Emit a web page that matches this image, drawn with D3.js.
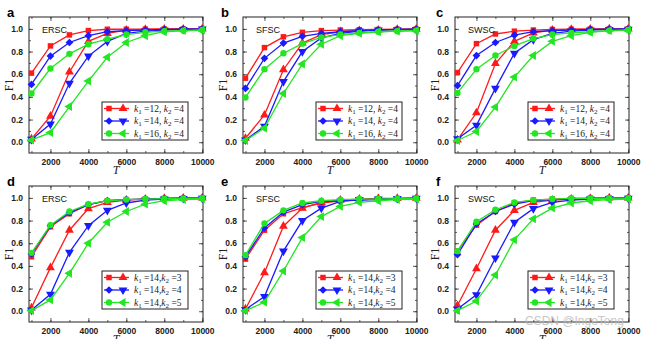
<!DOCTYPE html>
<html>
<head>
<meta charset="utf-8">
<script src="https://cdn.jsdelivr.net/npm/d3@7"></script>
<style>
    body { margin: 0; background: #fff; }
    .tick-label { font-family: "Liberation Sans", Arial, sans-serif; font-size: 8.5px; font-weight: bold; fill: #222; }
    .net-name { font-family: "Liberation Sans", Arial, sans-serif; font-size: 9px; fill: #111; }
    .panel-letter { font-family: "Liberation Sans", Arial, sans-serif; font-size: 13px; font-weight: bold; fill: #000; }
    .axis-title { font-family: "Liberation Serif", "Times New Roman", serif; font-size: 12px; fill: #222; }
    .legend-text { font-family: "Liberation Serif", "Times New Roman", serif; font-size: 9.5px; fill: #222; }
</style>
</head>
<body>
<script>
//x values shared by every curve
var tValues = [1000, 2000, 3000, 4000, 5000, 6000, 7000, 8000, 9000, 10000];
var xTicks = [2000, 4000, 6000, 8000, 10000];
var yTicks = [0, 0.2, 0.4, 0.6, 0.8, 1.0];

var panelLetters = ["a", "b", "c", "d", "e", "f"];
var networkNames = ["ERSC", "SFSC", "SWSC", "ERSC", "SFSC", "SWSC"];

//legend parameters (k1, k2) for top row and bottom row
var topK = [["12", "4"], ["14", "4"], ["16", "4"]];
var bottomK = [["14", "3"], ["14", "4"], ["14", "5"]];

//panel a (ERSC, k1 varies)
var aSquare   = [0.61, 0.85, 0.947, 0.985, 0.997, 0.997, 0.998, 0.999, 1.0, 1.0];
var aTriUp    = [0.03, 0.23, 0.62, 0.89, 0.96, 0.99, 0.995, 0.998, 0.999, 1.0];
var aDiamond  = [0.51, 0.76, 0.88, 0.94, 0.975, 0.985, 0.99, 0.995, 0.997, 0.998];
var aTriDown  = [0.025, 0.16, 0.52, 0.76, 0.89, 0.96, 0.98, 0.99, 0.995, 0.998];
var aCircle   = [0.43, 0.65, 0.78, 0.865, 0.91, 0.95, 0.97, 0.98, 0.985, 0.99];
var aTriLeft  = [0.02, 0.085, 0.315, 0.54, 0.75, 0.88, 0.94, 0.975, 0.985, 0.99];

//panel b (SFSC, k1 varies)
var bSquare   = [0.565, 0.835, 0.93, 0.97, 0.985, 0.99, 0.993, 0.995, 0.997, 0.998];
var bTriUp    = [0.035, 0.24, 0.64, 0.875, 0.95, 0.975, 0.985, 0.99, 0.995, 0.997];
var bDiamond  = [0.475, 0.74, 0.875, 0.935, 0.96, 0.975, 0.985, 0.99, 0.995, 0.998];
var bTriDown  = [0.02, 0.14, 0.535, 0.8, 0.92, 0.96, 0.98, 0.99, 0.993, 0.995];
var bCircle   = [0.395, 0.645, 0.785, 0.87, 0.925, 0.95, 0.965, 0.975, 0.98, 0.985];
var bTriLeft  = [0.015, 0.125, 0.43, 0.69, 0.865, 0.94, 0.96, 0.975, 0.98, 0.985];

//panel c (SWSC, k1 varies)
var cSquare   = [0.615, 0.87, 0.955, 0.98, 0.99, 0.995, 0.997, 0.998, 0.999, 1.0];
var cTriUp    = [0.02, 0.26, 0.695, 0.89, 0.965, 0.99, 0.995, 0.998, 1.0, 1.0];
var cDiamond  = [0.5, 0.765, 0.88, 0.945, 0.975, 0.985, 0.99, 0.995, 0.997, 0.998];
var cTriDown  = [0.03, 0.15, 0.475, 0.785, 0.905, 0.96, 0.98, 0.99, 0.995, 0.997];
var cCircle   = [0.435, 0.645, 0.765, 0.85, 0.915, 0.95, 0.965, 0.975, 0.985, 0.99];
var cTriLeft  = [0.015, 0.095, 0.31, 0.575, 0.765, 0.89, 0.94, 0.97, 0.985, 0.99];

//panel d (ERSC, k2 varies)
var dSquare   = [0.48, 0.745, 0.86, 0.94, 0.975, 0.985, 0.99, 0.995, 0.997, 0.998];
var dTriUp    = [0.03, 0.385, 0.715, 0.905, 0.96, 0.98, 0.99, 0.995, 0.997, 1.0];
var dDiamond  = [0.505, 0.755, 0.87, 0.94, 0.975, 0.985, 0.99, 0.995, 0.997, 0.998];
var dTriDown  = [0.01, 0.15, 0.52, 0.755, 0.89, 0.955, 0.98, 0.99, 0.995, 0.997];
var dCircle   = [0.515, 0.76, 0.88, 0.945, 0.975, 0.985, 0.99, 0.993, 0.995, 0.997];
var dTriLeft  = [0.005, 0.1, 0.335, 0.6, 0.785, 0.88, 0.945, 0.975, 0.985, 0.99];

//panel e (SFSC, k2 varies)
var eSquare   = [0.46, 0.715, 0.86, 0.915, 0.955, 0.975, 0.985, 0.99, 0.993, 0.995];
var eTriUp    = [0.02, 0.34, 0.75, 0.91, 0.96, 0.98, 0.99, 0.995, 0.995, 0.997];
var eDiamond  = [0.48, 0.735, 0.875, 0.94, 0.97, 0.975, 0.98, 0.985, 0.99, 0.995];
var eTriDown  = [0.015, 0.13, 0.53, 0.8, 0.91, 0.97, 0.985, 0.99, 0.995, 0.997];
var eCircle   = [0.495, 0.775, 0.89, 0.955, 0.975, 0.985, 0.99, 0.99, 0.993, 0.995];
var eTriLeft  = [0.005, 0.08, 0.355, 0.65, 0.835, 0.925, 0.96, 0.975, 0.985, 0.99];

//panel f (SWSC, k2 varies)
var fSquare   = [0.53, 0.76, 0.88, 0.955, 0.98, 0.99, 0.995, 0.998, 0.999, 1.0];
var fTriUp    = [0.05, 0.375, 0.715, 0.89, 0.96, 0.98, 0.99, 0.995, 1.0, 1.0];
var fDiamond  = [0.5, 0.77, 0.88, 0.945, 0.975, 0.985, 0.99, 0.995, 0.997, 0.998];
var fTriDown  = [0.02, 0.145, 0.47, 0.785, 0.905, 0.96, 0.98, 0.99, 0.995, 0.997];
var fCircle   = [0.53, 0.79, 0.895, 0.96, 0.98, 0.99, 0.995, 0.995, 0.997, 0.998];
var fTriLeft  = [0.005, 0.09, 0.32, 0.63, 0.815, 0.91, 0.955, 0.975, 0.985, 0.99];

var panelSeries = [
    [aSquare, aTriUp, aDiamond, aTriDown, aCircle, aTriLeft],
    [bSquare, bTriUp, bDiamond, bTriDown, bCircle, bTriLeft],
    [cSquare, cTriUp, cDiamond, cTriDown, cCircle, cTriLeft],
    [dSquare, dTriUp, dDiamond, dTriDown, dCircle, dTriLeft],
    [eSquare, eTriUp, eDiamond, eTriDown, eCircle, eTriLeft],
    [fSquare, fTriUp, fDiamond, fTriDown, fCircle, fTriLeft]
];

var red = "#ff1a1a", blue = "#1a1aff", green = "#22e622";
//colour, marker type and rotation for each of the six curves
var seriesStyle = [
    {color: red,   symbol: d3.symbolSquare,   size: 30, rotate: 0},
    {color: red,   symbol: d3.symbolTriangle, size: 34, rotate: 0},
    {color: blue,  symbol: d3.symbolSquare,   size: 30, rotate: 45},
    {color: blue,  symbol: d3.symbolTriangle, size: 34, rotate: 180},
    {color: green, symbol: d3.symbolCircle,   size: 32, rotate: 0},
    {color: green, symbol: d3.symbolTriangle, size: 34, rotate: -90}
];

function drawFigure(){
    var width = 648,
        height = 339;

    var svg = d3.select("body")
        .append("svg")
        .attr("width", width)
        .attr("height", height);

    //frame positions
    var colLeft = [29, 243, 455],
        rowTop = [17, 186],
        frameW = 174,
        frameH = 136;

    panelLetters.forEach(function(letter, i){
        var col = i % 3,
            row = Math.floor(i / 3);
        var g = svg.append("g")
            .attr("transform", "translate(" + colLeft[col] + "," + rowTop[row] + ")");
        drawPanel(g, frameW, frameH, i, row);
    });

    //watermark in lower right corner
    svg.append("text")
        .attr("x", 525)
        .attr("y", 325)
        .style("font-family", "Liberation Sans, Arial, sans-serif")
        .style("font-size", "12px")
        .style("fill", "#bbb")
        .style("opacity", 0.8)
        .text("CSDN @IngeTeng");
}

function drawPanel(g, w, h, index, row){
    var x = d3.scaleLinear()
        .domain([870, 10040])
        .range([0, w]);
    var y = d3.scaleLinear()
        .domain([-0.095, 1.105])
        .range([h, 0]);

    //ticks inside the frame on all four sides
    var xMinor = d3.range(1000, 10001, 1000),
        yMinor = d3.range(0, 1.01, 0.1);

    var axes = [
        {axis: d3.axisBottom(x).tickValues(xTicks).tickFormat(d3.format("d")), at: [0, h]},
        {axis: d3.axisTop(x).tickValues(xTicks).tickFormat(""), at: [0, 0]},
        {axis: d3.axisLeft(y).tickValues(yTicks).tickFormat(d3.format(".1f")), at: [0, 0]},
        {axis: d3.axisRight(y).tickValues(yTicks).tickFormat(""), at: [w, 0]}
    ];
    var minors = [
        d3.axisBottom(x).tickValues(xMinor).tickFormat(""),
        d3.axisTop(x).tickValues(xMinor).tickFormat(""),
        d3.axisLeft(y).tickValues(yMinor).tickFormat(""),
        d3.axisRight(y).tickValues(yMinor).tickFormat("")
    ];

    minors.forEach(function(ax, k){
        var at = axes[k].at;
        var a = g.append("g")
            .attr("transform", "translate(" + at[0] + "," + at[1] + ")")
            .call(ax.tickSizeInner(-2).tickSizeOuter(0));
        a.select(".domain").remove();
        a.selectAll("line").attr("stroke", "#333").attr("stroke-width", 0.8);
    });

    axes.forEach(function(item){
        var a = g.append("g")
            .attr("transform", "translate(" + item.at[0] + "," + item.at[1] + ")")
            .call(item.axis.tickSizeInner(-4).tickSizeOuter(0).tickPadding(6));
        a.select(".domain").remove();
        a.selectAll("line").attr("stroke", "#333").attr("stroke-width", 0.8);
        a.selectAll("text").attr("class", "tick-label").attr("fill", null);
    });

    //frame
    g.append("rect")
        .attr("width", w)
        .attr("height", h)
        .attr("fill", "none")
        .attr("stroke", "#222")
        .attr("stroke-width", 1);

    //curves
    var line = d3.line()
        .x(function(d, i){ return x(tValues[i]); })
        .y(function(d){ return y(d); });

    var plot = g.append("g");
    panelSeries[index].forEach(function(values, s){
        var st = seriesStyle[s];
        plot.append("path")
            .datum(values)
            .attr("d", line)
            .attr("fill", "none")
            .attr("stroke", st.color)
            .attr("stroke-width", 1.3);
        plot.selectAll(".m" + s)
            .data(values)
            .enter()
            .append("path")
            .attr("class", "m" + s)
            .attr("d", d3.symbol().type(st.symbol).size(st.size))
            .attr("transform", function(d, i){
                return "translate(" + x(tValues[i]) + "," + y(d) + ") rotate(" + st.rotate + ")";
            })
            .attr("fill", st.color);
    });

    //panel letter and network name
    g.append("text")
        .attr("class", "panel-letter")
        .attr("x", index % 3 == 2 ? -19 : -22)
        .attr("y", 0)
        .text(panelLetters[index]);

    g.append("text")
        .attr("class", "net-name")
        .attr("x", 13)
        .attr("y", 15.5)
        .text(networkNames[index]);

    //axis titles
    g.append("text")
        .attr("class", "axis-title")
        .attr("transform", "translate(-16," + (h / 2) + ") rotate(-90)")
        .attr("text-anchor", "middle")
        .text("F1");

    g.append("text")
        .attr("class", "axis-title")
        .attr("x", w / 2)
        .attr("y", h + 21)
        .attr("text-anchor", "middle")
        .style("font-style", "italic")
        .text("T");

    drawLegend(g, w, h, row);
}

function drawLegend(g, w, h, row){
    var ks = row == 0 ? topK : bottomK;
    var sep = row == 0 ? ", " : ",";
    var legW = 86,
        legH = 38;
    var leg = g.append("g")
        .attr("transform", "translate(" + (w - 15 - legW) + "," + (h - 13 - legH) + ")");

    leg.append("rect")
        .attr("width", legW)
        .attr("height", legH)
        .attr("fill", "#fff")
        .attr("stroke", "#222")
        .attr("stroke-width", 1);

    ks.forEach(function(k, r){
        var yy = 6.5 + r * 12.5;
        var a = seriesStyle[r * 2],
            b = seriesStyle[r * 2 + 1];
        leg.append("line")
            .attr("x1", 2).attr("x2", 27)
            .attr("y1", yy).attr("y2", yy)
            .attr("stroke", a.color)
            .attr("stroke-width", 1.3);
        leg.append("path")
            .attr("d", d3.symbol().type(a.symbol).size(a.size))
            .attr("transform", "translate(7," + yy + ") rotate(" + a.rotate + ")")
            .attr("fill", a.color);
        leg.append("path")
            .attr("d", d3.symbol().type(b.symbol).size(b.size))
            .attr("transform", "translate(21," + yy + ") rotate(" + b.rotate + ")")
            .attr("fill", b.color);

        var t = leg.append("text")
            .attr("class", "legend-text")
            .attr("x", 32)
            .attr("y", yy + 3);
        t.append("tspan").style("font-style", "italic").text("k");
        t.append("tspan").attr("dy", 2).style("font-size", "7px").text("1");
        t.append("tspan").attr("dy", -2).text(" =" + k[0] + sep);
        t.append("tspan").style("font-style", "italic").text("k");
        t.append("tspan").attr("dy", 2).style("font-size", "7px").text("2");
        t.append("tspan").attr("dy", -2).text(" =" + k[1]);
    });
}

window.onload = drawFigure();
</script>
</body>
</html>
